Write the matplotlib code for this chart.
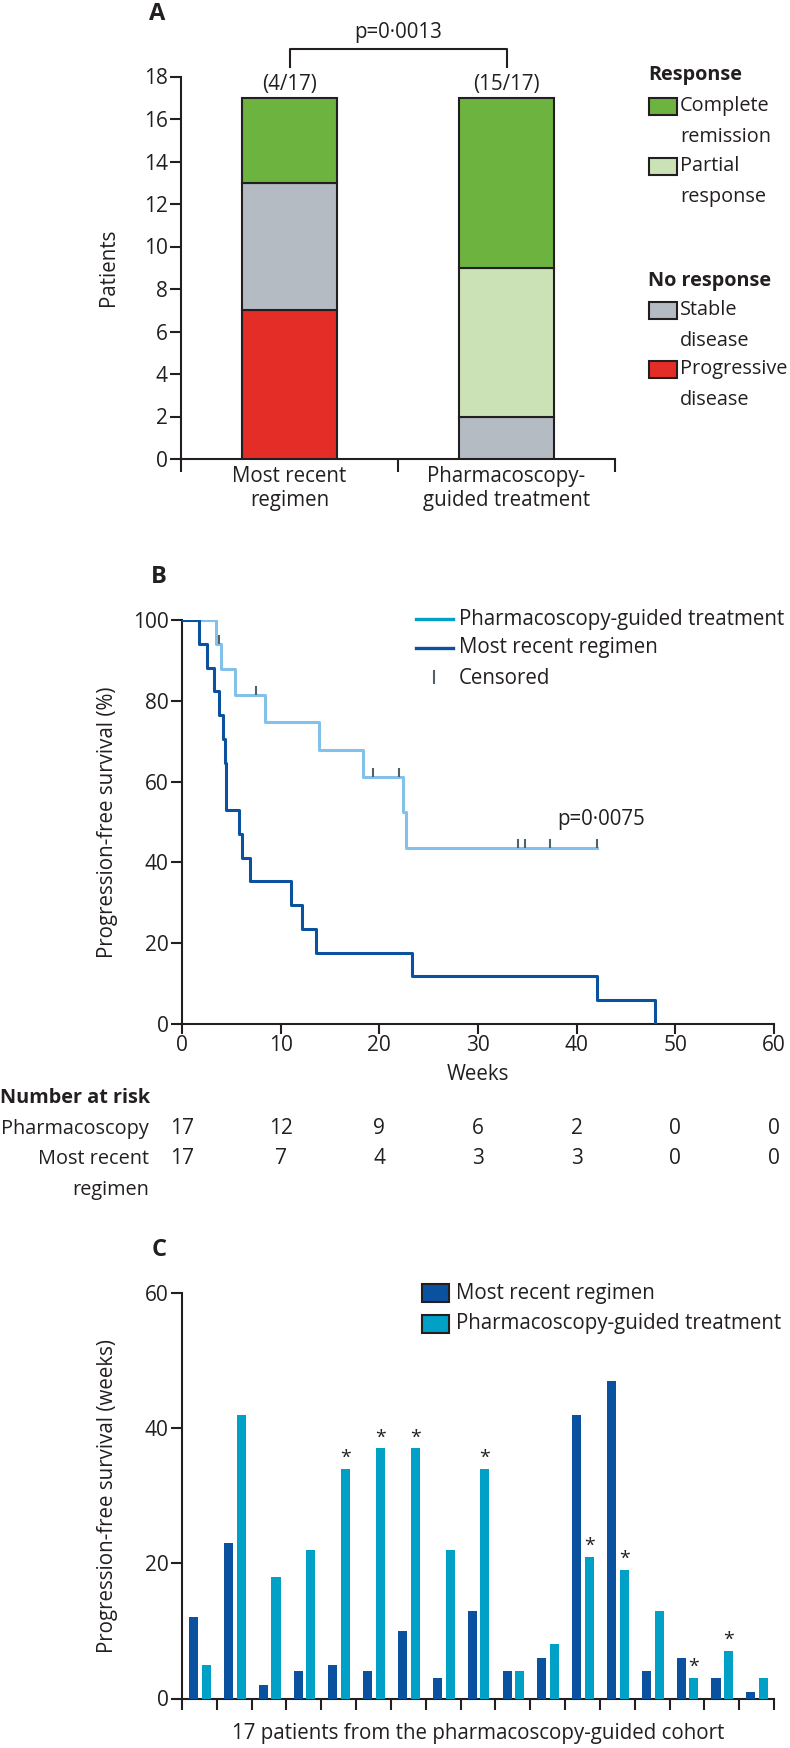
import matplotlib
matplotlib.use('Agg')
import matplotlib.pyplot as plt
from matplotlib.patches import Rectangle
from matplotlib.lines import Line2D
import numpy as np

# Panel A - best response per regimen
regimens = ['Most recent\nregimen', 'Pharmacoscopy-\nguided treatment']
complete = [4, 8]
partial = [0, 7]
stable = [6, 2]
progressive = [7, 0]
responders = ['(4/17)', '(15/17)']

# Panel B - Kaplan-Meier steps
pharm_t = [0, 3.4, 4.0, 5.4, 8.4, 13.9, 18.3, 22.4, 22.7, 42.1]
pharm_s = [100, 94.1, 87.8, 81.5, 74.7, 67.9, 61.1, 52.4, 43.6, 43.6]
pharm_cens_t = [3.7, 7.5, 19.4, 22.0, 34.1, 34.8, 37.3, 42.1]
pharm_cens_s = [94.1, 81.5, 61.1, 61.1, 43.6, 43.6, 43.6, 43.6]
recent_t = [0, 1.7, 2.5, 3.2, 3.8, 4.2, 4.4, 4.5, 5.8, 6.1, 6.9, 11.0, 12.2, 13.6, 23.3, 42.1, 47.9]
recent_s = [100, 94.1, 88.2, 82.4, 76.5, 70.6, 64.7, 52.9, 47.1, 41.2, 35.3, 29.4, 23.5, 17.6, 11.8, 5.9, 0]
risk_weeks = [0, 10, 20, 30, 40, 50, 60]
risk_pharm = [17, 12, 9, 6, 2, 0, 0]
risk_recent = [17, 7, 4, 3, 3, 0, 0]

# Panel C - PFS per patient (weeks)
pfs_recent = [12, 23, 2, 4, 5, 4, 10, 3, 13, 4, 6, 42, 47, 4, 6, 3, 1]
pfs_pharm = [5, 42, 18, 22, 34, 37, 37, 22, 34, 4, 8, 21, 19, 13, 3, 7, 3]
ongoing = [0, 0, 0, 0, 1, 1, 1, 0, 1, 0, 0, 1, 1, 0, 1, 1, 0]

INK = '#231f20'
GREEN = '#6db33f'
LGREEN = '#cbe2b7'
GREY = '#b4bbc2'
RED = '#e52d27'
DARKBLUE = '#0a52a0'
CYAN = '#01a0c6'
LIGHTLINE = '#84c1ea'
CENS = '#4f6269'
FS = 14.3     # legend / table text
FT = 15.0     # tick labels
FL = 14.8     # axis labels, B/C legends

plt.rcParams['font.family'] = ['Open Sans', 'DejaVu Sans']
plt.rcParams['font.size'] = FS
plt.rcParams['text.color'] = INK
plt.rcParams['axes.edgecolor'] = INK
plt.rcParams['xtick.color'] = INK
plt.rcParams['ytick.color'] = INK
plt.rcParams['axes.linewidth'] = 1.5
plt.rcParams['xtick.major.width'] = 1.5
plt.rcParams['ytick.major.width'] = 1.5

W, H = 790, 1748
fig = plt.figure(figsize=(W / 100, H / 100), dpi=100)


def px_axes(left, top, right, bottom):
    return fig.add_axes([left / W, 1 - bottom / H, (right - left) / W, (bottom - top) / H])


def ftext(x, y, s, **kw):
    kw.setdefault('va', 'center')
    fig.text(x / W, 1 - y / H, s, **kw)


def frect(x, y, w, h, color):
    fig.add_artist(Rectangle((x / W, 1 - (y + h) / H), w / W, h / H, facecolor=color,
                             edgecolor=INK, linewidth=1.5, transform=fig.transFigure))


def style(ax):
    for s in ['top', 'right']:
        ax.spines[s].set_visible(False)
    ax.tick_params(axis='y', length=8, pad=1.5, labelsize=FT)


# ---------------- A ----------------
axA = px_axes(181, 76.5, 615, 459)
style(axA)
xa = np.arange(len(regimens)) + 0.5
bottom = np.zeros(len(regimens))
for vals, col in [(progressive, RED), (stable, GREY), (partial, LGREEN), (complete, GREEN)]:
    vals = np.array(vals)
    axA.bar(xa[vals > 0], vals[vals > 0], 0.44, bottom=bottom[vals > 0], color=col,
            edgecolor=INK, linewidth=1.5, zorder=3)
    bottom += vals
axA.set_xlim(0, 2)
axA.set_ylim(0, 18)
axA.set_yticks(range(0, 19, 2))
axA.set_xticks([0, 1, 2])
axA.set_xticklabels([])
axA.tick_params(axis='x', which='major', length=9.5)
axA.set_xticks(xa, minor=True)
axA.set_xticklabels(regimens, minor=True, linespacing=1.2)
axA.tick_params(axis='x', which='minor', length=0, pad=5, labelsize=FL)
for xi, tot, lab in zip(xa, bottom, responders):
    axA.text(xi, tot + 0.15, lab, ha='center', va='bottom', fontsize=FL)
top = bottom.max()
axA.plot([xa[0], xa[0], xa[1], xa[1]], [top + 1.45, top + 2.3, top + 2.3, top + 1.45],
         color=INK, lw=1.5, clip_on=False)
axA.text(xa.mean(), top + 3.05, 'p=0·0013', ha='center', va='center', fontsize=FL)
ftext(108, 267, 'Patients', rotation=90, ha='center', fontsize=FL)
ftext(157, 14, 'A', ha='center', fontsize=17, fontweight='bold')

# legend A
ftext(648, 75, 'Response', ha='left', fontweight='bold')
ftext(648, 281, 'No response', ha='left', fontweight='bold')
for ytop, col, l1, l2 in [(98, GREEN, 'Complete', 'remission'),
                          (158, LGREEN, 'Partial', 'response'),
                          (302, GREY, 'Stable', 'disease'),
                          (361, RED, 'Progressive', 'disease')]:
    frect(649, ytop, 28, 17, col)
    ftext(680, ytop + 8, l1, ha='left')
    ftext(680, ytop + 39, l2, ha='left')

# ---------------- B ----------------
axB = px_axes(182, 620, 774, 1024)
style(axB)
axB.plot(pharm_t, pharm_s, drawstyle='steps-post', color=LIGHTLINE, lw=2.2, zorder=3)
axB.plot(recent_t, recent_s, drawstyle='steps-post', color=DARKBLUE, lw=2.2, zorder=3)
axB.vlines(pharm_cens_t, np.array(pharm_cens_s), np.array(pharm_cens_s) + 2.2, color=CENS, lw=1.5, zorder=4)
axB.set_xlim(0, 60)
axB.set_ylim(0, 100)
axB.set_xticks(risk_weeks)
axB.set_yticks(range(0, 101, 20))
axB.tick_params(axis='x', length=7, pad=1, labelsize=FT)
axB.text(42.5, 50.5, 'p=0·0075', ha='center', va='center', fontsize=FL)
ftext(478, 1075, 'Weeks', ha='center', fontsize=FL)
ftext(108, 822, 'Progression-free survival (%)', rotation=90, ha='center', fontsize=FL)
ftext(159, 577, 'B', ha='center', fontsize=17, fontweight='bold')

for yy, col, lab in [(619, CYAN, 'Pharmacoscopy-guided treatment'),
                     (648, DARKBLUE, 'Most recent regimen')]:
    fig.add_artist(Line2D([416 / W, 453 / W], [1 - yy / H] * 2, color=col, lw=2.4))
    ftext(459, yy, lab, ha='left', fontsize=FL)
fig.add_artist(Line2D([434 / W, 434 / W], [1 - 671 / H, 1 - 683 / H], color=CENS, lw=1.5))
ftext(459, 678, 'Censored', ha='left', fontsize=FL)

# number at risk
ftext(0, 1098, 'Number at risk', ha='left', fontweight='bold')
ftext(149, 1129, 'Pharmacoscopy', ha='right')
ftext(149, 1159, 'Most recent', ha='right')
ftext(149, 1190, 'regimen', ha='right')
for wk, n1, n2 in zip(risk_weeks, risk_pharm, risk_recent):
    xp = 182 + wk * (774 - 182) / 60
    ftext(xp, 1129, str(n1), ha='center', fontsize=FT)
    ftext(xp, 1159, str(n2), ha='center', fontsize=FT)

# ---------------- C ----------------
axC = px_axes(182, 1293, 774, 1698.5)
style(axC)
xc = np.arange(len(pfs_recent)) + 0.5
axC.bar(xc - 0.165, pfs_recent, 0.26, color=DARKBLUE, zorder=3)
axC.bar(xc + 0.2, pfs_pharm, 0.26, color=CYAN, zorder=3)
for xi, v, o in zip(xc, pfs_pharm, ongoing):
    if o:
        axC.text(xi + 0.2, v + 0.3, '*', ha='center', va='bottom', fontsize=14)
axC.set_xlim(0, len(pfs_recent))
axC.set_ylim(0, 60)
axC.set_yticks(range(0, 61, 20))
axC.set_xticks(range(len(pfs_recent) + 1))
axC.set_xticklabels([])
axC.tick_params(axis='x', length=8)
ftext(478, 1733, '17 patients from the pharmacoscopy-guided cohort', ha='center', fontsize=FL)
ftext(108, 1496, 'Progression-free survival (weeks)', rotation=90, ha='center', fontsize=FL)
ftext(159, 1250, 'C', ha='center', fontsize=17, fontweight='bold')

frect(422, 1284, 27, 18, DARKBLUE)
ftext(456, 1293, 'Most recent regimen', ha='left', fontsize=FL)
frect(422, 1315, 27, 18, CYAN)
ftext(456, 1323, 'Pharmacoscopy-guided treatment', ha='left', fontsize=FL)

fig.savefig('out.png', dpi=100)
